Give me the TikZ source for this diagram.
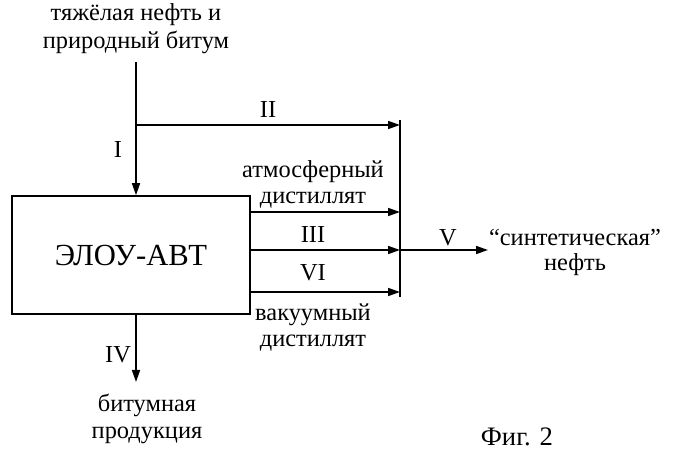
\documentclass[tikz,border=0pt]{standalone}
\usepackage{fontspec}
\setmainfont{Liberation Serif}
\usetikzlibrary{arrows.meta}
\begin{document}
\begin{tikzpicture}[x=0.75pt,y=0.75pt,yscale=-1,xscale=1,
  lbl/.style={inner sep=0pt,font=\fontsize{18.3}{21}\selectfont},
  flow/.style={line width=1.2pt,-{Triangle[length=9pt,width=6pt]}}]
\useasboundingbox (0,0) rectangle (700,459);

%Shape: Box
\node (unit) [draw,line width=1.2pt,minimum width=238*0.75pt,minimum height=118*0.75pt,inner sep=0pt,font=\fontsize{23}{26}\selectfont] at (131,255) {ЭЛОУ-АВТ};

%Points
\coordinate (feed) at (136,62);
\coordinate (split) at (136,125);
\coordinate (c2) at (400,125);
\coordinate (c3) at (400,250);
\coordinate (ca) at (400,212);
\coordinate (c6) at (400,292);
\coordinate (ctop) at (400,120);
\coordinate (cbot) at (400,297);
\coordinate (out) at (488,250);
\coordinate (down) at (136,382);

%Straight Lines
\draw [line width=1.2pt] (feed) -- (split);
\draw [flow] (split) -- (unit.north -| split);
\draw [flow] (split) -- (c2);
\draw [flow] (unit.east |- ca) -- (ca);
\draw [flow] (unit.east |- c3) -- (c3);
\draw [flow] (unit.east |- c6) -- (c6);
\draw [line width=1.2pt] (ctop) -- (cbot);
\draw [flow] (c3) -- (out);
\draw [flow] (unit.south -| split) -- (down);

% Text Node
\node (src1) [lbl] at (136,15) {тяжёлая нефть и};
\node (src2) [lbl] at (136,42) {природный битум};
\node (s1) [lbl] at (118,150) {I};
\node (s2) [lbl] at (268,110) {II};
\node (atm1) [lbl] at (313,172) {атмосферный};
\node (atm2) [lbl] at (313,200) {дистиллят};
\node (s3) [lbl] at (313,235) {III};
\node (s6) [lbl] at (313,273) {VI};
\node (vac1) [lbl] at (313,315) {вакуумный};
\node (vac2) [lbl] at (313,343) {дистиллят};
\node (s5) [lbl] at (448,238) {V};
\node (syn1) [lbl] at (575,237) {“синтетическая”};
\node (syn2) [lbl] at (575,265) {нефть};
\node (s4) [lbl] at (118,355) {IV};
\node (bit1) [lbl] at (147,405) {битумная};
\node (bit2) [lbl] at (147,435) {продукция};
\node (fig) [lbl,font=\fontsize{20}{23}\selectfont] at (517,437) {Фиг. 2};
\end{tikzpicture}
\end{document}
